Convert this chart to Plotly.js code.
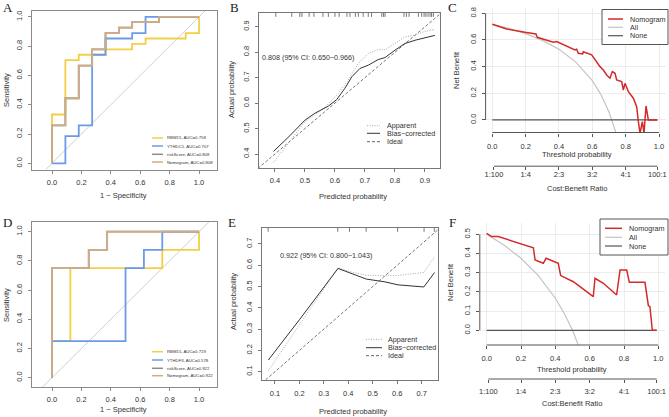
<!DOCTYPE html>
<html><head><meta charset="utf-8">
<script src="https://cdn.plot.ly/plotly-3.0.1.min.js"></script>
<style>html,body{margin:0;padding:0;background:#fff}#chart{width:669px;height:417px}</style>
</head><body><div id="chart"></div>
<script>
// ---------- DATA ----------
// Panel A (training ROC)
const A_rbm15_fpr = [0, 0, 0.091, 0.182, 0.364, 0.545, 0.636, 0.909, 1];
const A_rbm15_tpr = [0, 0.333, 0.704, 0.741, 0.778, 0.815, 0.852, 0.889, 1];
const A_ythdc1_fpr = [0, 0.091, 0.182, 0.273, 0.364, 0.545, 0.636, 1];
const A_ythdc1_tpr = [0, 0.185, 0.259, 0.741, 0.852, 0.889, 1, 1];
const A_risk_fpr = [0, 0, 0.091, 0.182, 0.273, 0.364, 0.455, 0.545, 0.727, 1];
const A_risk_tpr = [0, 0.259, 0.444, 0.667, 0.778, 0.889, 0.926, 0.963, 1, 1];
const A_nomo_fpr = [0, 0, 0.091, 0.182, 0.273, 0.364, 0.455, 0.545, 0.727, 1];
const A_nomo_tpr = [0, 0.259, 0.444, 0.667, 0.778, 0.889, 0.926, 0.963, 1, 1];
const A_names = ["RBM15, AUC=0.758", "YTHDC1, AUC=0.707", "riskScore, AUC=0.808", "Nomogram, AUC=0.808"];
// Panel D (validation ROC)
const D_rbm15_fpr = [0, 0, 0.125, 0.75, 1];
const D_rbm15_tpr = [0, 0.25, 0.75, 0.875, 1];
const D_ythdf3_fpr = [0, 0, 0.5, 0.625, 0.75, 1];
const D_ythdf3_tpr = [0, 0.25, 0.75, 0.875, 1, 1];
const D_risk_fpr = [0, 0, 0.25, 0.375, 1];
const D_risk_tpr = [0, 0.75, 0.875, 1, 1];
const D_nomo_fpr = [0, 0, 0.25, 0.375, 1];
const D_nomo_tpr = [0, 0.75, 0.875, 1, 1];
const D_names = ["RBM15, AUC=0.719", "YTHDF3, AUC=0.578", "riskScore, AUC=0.922", "Nomogram, AUC=0.922"];
const rocDiag = [-0.3, 1.3];
const rocTicks = [0, 0.2, 0.4, 0.6, 0.8, 1.0];

// Panel B (calibration, training)
const B_app_x = [0.395, 0.45, 0.5, 0.567, 0.606, 0.644, 0.678, 0.711, 0.744, 0.767, 0.8, 0.833, 0.867, 0.9, 0.933];
const B_app_y = [0.366, 0.45, 0.527, 0.583, 0.631, 0.69, 0.756, 0.795, 0.81, 0.81, 0.834, 0.86, 0.867, 0.882, 0.889];
const B_bias_x = [0.395, 0.45, 0.5, 0.533, 0.578, 0.606, 0.633, 0.656, 0.683, 0.711, 0.744, 0.767, 0.8, 0.833, 0.867, 0.906, 0.933];
const B_bias_y = [0.41, 0.472, 0.533, 0.56, 0.588, 0.614, 0.658, 0.703, 0.736, 0.749, 0.771, 0.779, 0.808, 0.834, 0.847, 0.86, 0.866];
const B_rug = [0.403, 0.456, 0.483, 0.49, 0.514, 0.53, 0.56, 0.578, 0.6, 0.614, 0.64, 0.65, 0.668, 0.678, 0.694, 0.711, 0.722, 0.756, 0.762, 0.767, 0.83, 0.838, 0.847, 0.878, 0.889, 0.897, 0.903, 0.91, 0.917, 0.922, 0.928];
const B_xticks = [0.4, 0.5, 0.6, 0.7, 0.8, 0.9];
const B_yticks = [0.4, 0.5, 0.6, 0.7, 0.8, 0.9];
const B_text = "0.808 (95% CI: 0.650\u22120.966)";
// Panel E (calibration, validation)
const E_app_x = [0.073, 0.2, 0.358, 0.406, 0.474, 0.55, 0.603, 0.709, 0.753];
const E_app_y = [0.105, 0.32, 0.588, 0.57, 0.553, 0.551, 0.552, 0.566, 0.64];
const E_bias_x = [0.073, 0.2, 0.358, 0.406, 0.474, 0.55, 0.603, 0.709, 0.753];
const E_bias_y = [0.155, 0.344, 0.585, 0.565, 0.535, 0.522, 0.508, 0.498, 0.566];
const E_rug = [0.072, 0.357, 0.405, 0.473, 0.602, 0.71, 0.752];
const E_xticks = [0.1, 0.2, 0.3, 0.4, 0.5, 0.6, 0.7];
const E_yticks = [0.1, 0.2, 0.3, 0.4, 0.5, 0.6, 0.7];
const E_text = "0.922 (95% CI: 0.800\u22121.043)";
const idealLine = [0, 1];
const calNames = ["Apparent", "Bias\u2212corrected", "Ideal"];

// Panel C (DCA, training)
const C_nomo_x = [0, 0.086, 0.196, 0.246, 0.262, 0.27, 0.346, 0.366, 0.386, 0.456, 0.496, 0.506, 0.516, 0.542, 0.546, 0.596, 0.616, 0.646, 0.666, 0.686, 0.706, 0.72, 0.736, 0.746, 0.776, 0.786, 0.796, 0.816, 0.846, 0.866, 0.876, 0.886, 0.9, 0.91, 0.922, 0.936, 0.99];
const C_nomo_y = [0.718, 0.683, 0.658, 0.65, 0.645, 0.62, 0.588, 0.583, 0.588, 0.55, 0.525, 0.53, 0.5, 0.495, 0.512, 0.488, 0.45, 0.4, 0.375, 0.338, 0.313, 0.363, 0.35, 0.3, 0.288, 0.225, 0.275, 0.213, 0.163, 0.1, -0.013, -0.1, -0.013, -0.1, 0.105, 0, 0];
const C_all_x = [0, 0.1, 0.2, 0.3, 0.4, 0.5, 0.6, 0.65, 0.7, 0.72, 0.74, 0.75];
const C_all_y = [0.718, 0.687, 0.648, 0.597, 0.53, 0.436, 0.295, 0.194, 0.06, -0.007, -0.085, -0.128];
const C_none_x = [0, 0.99];
const C_none_y = [0, 0];
const C_yticks = [0, 0.2, 0.4, 0.6, 0.8];
// Panel F (DCA, validation)
const F_nomo_x = [0, 0.029, 0.068, 0.262, 0.272, 0.282, 0.33, 0.346, 0.417, 0.431, 0.505, 0.621, 0.631, 0.68, 0.757, 0.777, 0.816, 0.831, 0.922, 0.942, 0.951, 0.965, 0.99];
const F_nomo_y = [0.505, 0.488, 0.488, 0.436, 0.43, 0.366, 0.349, 0.375, 0.349, 0.285, 0.253, 0.175, 0.271, 0.245, 0.184, 0.314, 0.314, 0.25, 0.25, 0.128, 0.123, 0, 0];
const F_all_x = [0, 0.1, 0.2, 0.3, 0.4, 0.45, 0.5, 0.54, 0.56];
const F_all_y = [0.5, 0.444, 0.375, 0.286, 0.167, 0.091, 0, -0.087, -0.136];
const F_none_x = [0, 0.99];
const F_none_y = [0, 0];
const F_yticks = [0, 0.1, 0.2, 0.3, 0.4, 0.5];
const dcaXticks = [0, 0.2, 0.4, 0.6, 0.8, 1.0];
const costTicks = [0.01, 0.2, 0.4, 0.6, 0.8, 0.99];
const costLabels = ["1:100", "1:4", "2:3", "3:2", "4:1", "100:1"];
const dcaNames = ["Nomogram", "All", "None"];

// ---------- STYLE / LAYOUT ----------
const W = 669, H = 417;
const fx = p => p / W;
const fy = p => 1 - p / H;
const SANS = "Liberation Sans, Arial, sans-serif";
const SERIF = "Liberation Serif, Times New Roman, serif";
const TXT = '#333';
const cYel = '#F2CF45', cBlue = '#6B9BE6', cGray = '#8C8C8C', cTan = '#CFAE85';
const cRed = '#D42A2A';
const APP_DASH = '1px,1.5px', IDEAL_DASH = '3px,2px';

function ax(dom, rng, vals, opt) {
  return Object.assign({
    domain: dom, range: rng, tickvals: vals, tickformat: '.1f',
    showgrid: false, zeroline: false, showline: true, mirror: true,
    linecolor: '#777', linewidth: 1, ticks: 'outside', ticklen: 3, tickwidth: 1, tickcolor: '#777',
    tickfont: {family: SANS, size: 7.5, color: TXT}, automargin: false, fixedrange: true
  }, opt || {});
}
const xd = (l, r) => [fx(l), fx(r)];
const yd = (t, b) => [fy(b), fy(t)];

const layout = {
  width: W, height: H, margin: {l: 0, r: 0, t: 0, b: 0},
  paper_bgcolor: '#fff', plot_bgcolor: 'rgba(0,0,0,0)', showlegend: false,
  xaxis:  ax(xd(32, 217), [-0.136, 1.122], rocTicks, {anchor: 'y', linecolor: '#8a8a8a', tickcolor: '#8a8a8a', ticklabelstandoff: 2}),
  yaxis:  ax(yd(10.5, 169.6), [-0.043, 1.043], rocTicks, {anchor: 'x', linecolor: '#8a8a8a', tickcolor: '#8a8a8a', tickangle: -90, ticklabelstandoff: 3}),
  xaxis2: ax(xd(259, 440), [0.347, 0.95], B_xticks, {anchor: 'y2', ticklabelstandoff: 2}),
  yaxis2: ax(yd(13, 168), [0.345, 0.954], B_yticks, {anchor: 'x2', tickangle: -90, ticklabelstandoff: 3}),
  xaxis3: ax(xd(485.6, 665.7), [-0.04, 1.04], dcaXticks, {anchor: 'y3', showline: false, showgrid: true, gridcolor: '#ececec', linecolor: '#555', tickcolor: '#555', ticklabelstandoff: 3}),
  yaxis3: ax(yd(8, 132.5), [-0.094, 0.84], C_yticks, {anchor: 'x3', showline: false, showgrid: true, gridcolor: '#ececec', tickcolor: '#555', tickangle: -90, ticklabelstandoff: 3}),
  xaxis4: ax(xd(32, 217), [-0.136, 1.122], rocTicks, {anchor: 'y4', linecolor: '#8a8a8a', tickcolor: '#8a8a8a', ticklabelstandoff: 2}),
  yaxis4: ax(yd(222, 387.3), [-0.066, 1.066], rocTicks, {anchor: 'x4', linecolor: '#8a8a8a', tickcolor: '#8a8a8a', tickangle: -90, ticklabelstandoff: 3}),
  xaxis5: ax(xd(262, 438), [0.047, 0.767], E_xticks, {anchor: 'y5', ticklabelstandoff: 3}),
  yaxis5: ax(yd(228, 380), [0.061, 0.775], E_yticks, {anchor: 'x5', tickangle: -90, ticklabelstandoff: 3}),
  xaxis6: ax(xd(479.8, 665.2), [-0.04, 1.04], dcaXticks, {anchor: 'y6', showline: false, showgrid: true, gridcolor: '#ececec', tickcolor: '#555', ticklabelstandoff: 3}),
  yaxis6: ax(yd(222.8, 345), [-0.0766, 0.56], F_yticks, {anchor: 'x6', showline: false, showgrid: true, gridcolor: '#ececec', tickcolor: '#555', tickangle: -90, ticklabelstandoff: 3}),
  xaxis7: ax(xd(485.6, 665.7), [-0.04, 1.04], costTicks, {anchor: 'free', overlaying: 'x3', position: fy(166.2), showline: false, tickcolor: '#555', ticktext: costLabels, tickformat: null, ticklabelstandoff: -2}),
  xaxis8: ax(xd(479.8, 665.2), [-0.04, 1.04], costTicks, {anchor: 'free', overlaying: 'x6', position: fy(379), showline: false, tickcolor: '#555', ticktext: costLabels, tickformat: null, ticklabelstandoff: 2}),
  annotations: [], shapes: []
};

function ann(text, x, y, size, opt) {
  layout.annotations.push(Object.assign({text: text, x: fx(x), y: fy(y), xref: 'paper', yref: 'paper',
    showarrow: false, xanchor: 'center', yanchor: 'middle', font: {family: SANS, size: size, color: TXT}}, opt || {}));
}
function seg(x0, x1, y, color, width, dash) {
  layout.shapes.push({type: 'line', xref: 'paper', yref: 'paper', x0: fx(x0), x1: fx(x1), y0: fy(y), y1: fy(y),
    line: {color: color, width: width, dash: dash || 'solid'}});
}

// panel letters
[['A', 8, 8], ['B', 235, 8], ['C', 452, 8], ['D', 7, 222], ['E', 232, 222], ['F', 452, 222]].forEach(l =>
  ann(l[0], l[1], l[2], 13, {font: {family: SERIF, size: 13, color: '#222'}}));

// axis titles
ann('Sensitivity', 6, 90, 7.5, {textangle: -90});
ann('1 \u2212 Specificity', 123, 196, 7.5);
ann('Sensitivity', 6, 305, 7.5, {textangle: -90});
ann('1 \u2212 Specificity', 123, 409, 7.5);
ann('Actual probability', 231, 90, 7.5, {textangle: -90});
ann('Predicted probability', 353, 197, 7.5);
ann('Actual probability', 233, 302, 7.5, {textangle: -90});
ann('Predicted probability', 353, 411, 7.5);
ann('Net Benefit', 456, 70, 7.5, {textangle: -90});
ann('Threshold probability', 577, 154.5, 7.5);
ann('Cost:Benefit Ratio', 577, 188.5, 7.5);
ann('Net Benefit', 450, 282, 7.5, {textangle: -90});
ann('Threshold probability', 572, 369, 7.5);
ann('Cost:Benefit Ratio', 572, 403.5, 7.5);
ann(B_text, 260, 57, 7.2, {xanchor: 'left'});
ann(E_text, 278, 255, 7.2, {xanchor: 'left'});

// ROC legends
const rocCols = [cYel, cBlue, cGray, cTan];
[[A_names, [138, 146, 154.3, 162]], [D_names, [351.7, 360, 368.3, 375.7]]].forEach(g => {
  g[0].forEach((n, i) => {
    seg(152, 163, g[1][i], rocCols[i], 1.5);
    ann(n, 165, g[1][i], 4.3, {xanchor: 'left', font: {family: SANS, size: 4.3, color: TXT}});
  });
});
// calibration legends
const calSty = [['#aaa', 1, APP_DASH], ['#333', 1, 'solid'], ['#666', 1, IDEAL_DASH]];
[[367, 380, 385, [125.7, 133.3, 141.7]], [366, 382, 386, [339.3, 347.7, 355.7]]].forEach(g => {
  calNames.forEach((n, i) => {
    seg(g[0], g[1], g[3][i], calSty[i][0], calSty[i][1], calSty[i][2]);
    ann(n, g[2], g[3][i], 7.2, {xanchor: 'left', font: {family: SANS, size: 7.2, color: TXT}});
  });
});
// DCA legends
const dcaSty = [[cRed, 1.5], ['#c4c4c4', 1.2], ['#555', 1.2]];
[[602, 9.5, 668, 44.5, 608, 623, 628, [19, 27.3, 35.7]], [600, 219, 668, 255, 605, 622, 627, [228.3, 237.3, 246]]].forEach(g => {
  layout.shapes.push({type: 'rect', xref: 'paper', yref: 'paper', x0: fx(g[0]), x1: fx(g[2]), y0: fy(g[3]), y1: fy(g[1]),
    line: {color: '#555', width: 1}, fillcolor: '#fff'});
  dcaNames.forEach((n, i) => {
    seg(g[4], g[5], g[7][i], dcaSty[i][0], dcaSty[i][1]);
    ann(n, g[6], g[7][i], 7.2, {xanchor: 'left', font: {family: SANS, size: 7.2, color: TXT}});
  });
});

// rugs
B_rug.forEach(v => layout.shapes.push({type: 'line', xref: 'x2', yref: 'y2 domain', x0: v, x1: v, y0: 1, y1: 0.975, line: {color: '#555', width: 0.8}}));
E_rug.forEach(v => layout.shapes.push({type: 'line', xref: 'x5', yref: 'y5 domain', x0: v, x1: v, y0: 1, y1: 0.975, line: {color: '#555', width: 0.8}}));

// DCA axis lines (span first..last tick, R style)
function rAxis(xa, ya, xt, yt) {
  layout.shapes.push({type: 'line', xref: xa, yref: ya + ' domain', x0: xt[0], x1: xt[xt.length - 1], y0: 0, y1: 0, line: {color: '#555', width: 1}});
  layout.shapes.push({type: 'line', xref: xa + ' domain', yref: ya, x0: 0, x1: 0, y0: yt[0], y1: yt[yt.length - 1], line: {color: '#555', width: 1}});
}
rAxis('x3', 'y3', dcaXticks, C_yticks);
rAxis('x6', 'y6', dcaXticks, F_yticks);
layout.shapes.push({type: 'line', xref: 'x3', yref: 'paper', x0: costTicks[0], x1: costTicks[costTicks.length - 1], y0: fy(166.2), y1: fy(166.2), line: {color: '#555', width: 1}});
layout.shapes.push({type: 'line', xref: 'x6', yref: 'paper', x0: costTicks[0], x1: costTicks[costTicks.length - 1], y0: fy(379), y1: fy(379), line: {color: '#555', width: 1}});

// ---------- TRACES ----------
const L = (x, y, xa, ya, line, shape) => ({x: x, y: y, xaxis: xa, yaxis: ya, type: 'scatter', mode: 'lines',
  line: Object.assign({shape: shape || 'linear'}, line), hoverinfo: 'skip'});
const traces = [
  L(rocDiag, rocDiag, 'x', 'y', {color: '#cfcfcf', width: 1}),
  L(A_rbm15_fpr, A_rbm15_tpr, 'x', 'y', {color: cYel, width: 1.8}, 'hv'),
  L(A_ythdc1_fpr, A_ythdc1_tpr, 'x', 'y', {color: cBlue, width: 1.8}, 'hv'),
  L(A_risk_fpr, A_risk_tpr, 'x', 'y', {color: cGray, width: 1.8}, 'hv'),
  L(A_nomo_fpr, A_nomo_tpr, 'x', 'y', {color: cTan, width: 1.8}, 'hv'),
  L(rocDiag, rocDiag, 'x4', 'y4', {color: '#cfcfcf', width: 1}),
  L(D_rbm15_fpr, D_rbm15_tpr, 'x4', 'y4', {color: cYel, width: 1.8}, 'hv'),
  L(D_ythdf3_fpr, D_ythdf3_tpr, 'x4', 'y4', {color: cBlue, width: 1.8}, 'hv'),
  L(D_risk_fpr, D_risk_tpr, 'x4', 'y4', {color: cGray, width: 1.8}, 'hv'),
  L(D_nomo_fpr, D_nomo_tpr, 'x4', 'y4', {color: cTan, width: 1.8}, 'hv'),
  L(idealLine, idealLine, 'x2', 'y2', {color: '#666', width: 0.9, dash: IDEAL_DASH}),
  L(B_app_x, B_app_y, 'x2', 'y2', {color: '#aaa', width: 1, dash: APP_DASH}),
  L(B_bias_x, B_bias_y, 'x2', 'y2', {color: '#333', width: 1}),
  L(idealLine, idealLine, 'x5', 'y5', {color: '#666', width: 0.9, dash: IDEAL_DASH}),
  L(E_app_x, E_app_y, 'x5', 'y5', {color: '#aaa', width: 1, dash: APP_DASH}),
  L(E_bias_x, E_bias_y, 'x5', 'y5', {color: '#333', width: 1}),
  L(C_all_x, C_all_y, 'x3', 'y3', {color: '#c4c4c4', width: 1.2}),
  L(C_none_x, C_none_y, 'x3', 'y3', {color: '#555', width: 1.2}),
  L(C_nomo_x, C_nomo_y, 'x3', 'y3', {color: cRed, width: 1.5}),
  L(F_all_x, F_all_y, 'x6', 'y6', {color: '#c4c4c4', width: 1.2}),
  L(F_none_x, F_none_y, 'x6', 'y6', {color: '#555', width: 1.2}),
  L(F_nomo_x, F_nomo_y, 'x6', 'y6', {color: cRed, width: 1.5}),
  L([], [], 'x7', 'y3', {color: '#fff', width: 0}),
  L([], [], 'x8', 'y6', {color: '#fff', width: 0})
];
Plotly.newPlot('chart', traces, layout, {staticPlot: true, displayModeBar: false});
</script></body></html>
